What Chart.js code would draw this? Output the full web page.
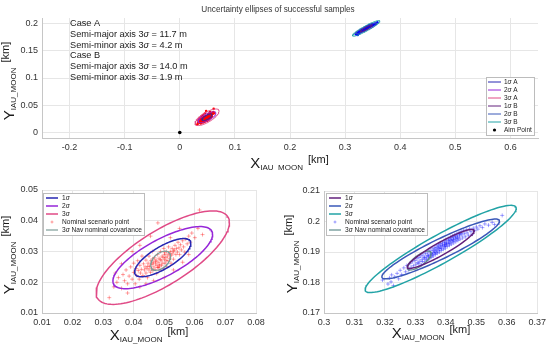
<!DOCTYPE html>
<html>
<head>
<meta charset="utf-8">
<script src="https://cdn.jsdelivr.net/npm/chart.js@4.4.1/dist/chart.umd.min.js"></script>
<style>
  body { margin: 0; background: #fff; }
  #wrap { position: relative; width: 550px; height: 348px; overflow: hidden; background: #fff; }
  canvas { position: absolute; }
</style>
</head>
<body>
<div id="wrap">
  <canvas id="chartTop" width="550" height="170" style="left:0;top:0"></canvas>
  <canvas id="chartA" width="275" height="178" style="left:0;top:170px"></canvas>
  <canvas id="chartB" width="275" height="178" style="left:275px;top:170px"></canvas>
</div>
<script>
const titleText = 'Uncertainty ellipses of successful samples';
const caseNotes = ['Case A', 'Semi-major axis 3σ = 11.7 m', 'Semi-minor axis 3σ = 4.2 m',
                   'Case B', 'Semi-major axis 3σ = 14.0 m', 'Semi-minor axis 3σ = 1.9 m'];

const topXTicks = [-0.2, -0.1, 0, 0.1, 0.2, 0.3, 0.4, 0.5, 0.6];
const topYTicks = [0, 0.05, 0.1, 0.15, 0.2];
const aXTicks = [0.01, 0.02, 0.03, 0.04, 0.05, 0.06, 0.07, 0.08];
const aYTicks = [0.01, 0.02, 0.03, 0.04, 0.05];
const bXTicks = [0.3, 0.31, 0.32, 0.33, 0.34, 0.35, 0.36, 0.37];
const bYTicks = [0.17, 0.18, 0.19, 0.2, 0.21];

const sigmaLabels = ['1σ', '2σ', '3σ'];
const aimPoint = [0, 0];

// ellipse sizes (km): centre, half extent in x and y, correlation
const centreA = [0.0495, 0.0280];
const halfXA = [0.0092, 0.0163, 0.0218];
const halfYA = [0.0062, 0.0101, 0.0152];
const rhoA = 0.75;
const navA = [0.0488, 0.0270, 0.00325, 0.0031, 0.45];

const centreB = [0.3383, 0.1910];
const halfXB = [0.0110, 0.0193, 0.0248];
const halfYB = [0.0064, 0.0098, 0.0143];
const rhoB = 0.93;
const navB = [0.3313, 0.1872, 0.0039, 0.0031, 0.75];

// successful samples, case A
const samplesA = [
  [0.0615,0.0435],[0.0320,0.0150],[0.0335,0.0185],[0.0345,0.0200],[0.0350,0.0215],[0.0360,0.0180],
  [0.0365,0.0225],[0.0370,0.0205],[0.0375,0.0240],[0.0380,0.0195],[0.0385,0.0220],[0.0390,0.0250],
  [0.0395,0.0210],[0.0400,0.0232],[0.0400,0.0262],[0.0405,0.0195],[0.0408,0.0245],[0.0410,0.0222],
  [0.0413,0.0270],[0.0415,0.0238],[0.0418,0.0210],[0.0420,0.0255],[0.0422,0.0230],[0.0425,0.0242],
  [0.0427,0.0285],[0.0430,0.0222],[0.0432,0.0260],[0.0435,0.0240],[0.0437,0.0250],[0.0440,0.0230],
  [0.0440,0.0272],[0.0443,0.0245],[0.0445,0.0215],[0.0447,0.0262],[0.0450,0.0240],[0.0450,0.0285],
  [0.0452,0.0252],[0.0455,0.0232],[0.0456,0.0270],[0.0458,0.0245],[0.0460,0.0258],[0.0461,0.0300],
  [0.0463,0.0238],[0.0465,0.0265],[0.0466,0.0250],[0.0468,0.0280],[0.0470,0.0242],[0.0471,0.0260],
  [0.0473,0.0272],[0.0475,0.0228],[0.0476,0.0255],[0.0478,0.0290],[0.0480,0.0265],[0.0481,0.0248],
  [0.0483,0.0278],[0.0485,0.0258],[0.0486,0.0240],[0.0488,0.0300],[0.0490,0.0270],[0.0491,0.0255],
  [0.0493,0.0285],[0.0495,0.0262],[0.0497,0.0245],[0.0498,0.0310],[0.0500,0.0275],[0.0502,0.0290],
  [0.0503,0.0262],[0.0505,0.0280],[0.0507,0.0300],[0.0508,0.0250],[0.0510,0.0285],[0.0512,0.0270],
  [0.0514,0.0315],[0.0515,0.0292],[0.0517,0.0278],[0.0520,0.0300],[0.0522,0.0262],[0.0524,0.0288],
  [0.0526,0.0310],[0.0528,0.0295],[0.0530,0.0275],[0.0533,0.0305],[0.0535,0.0320],[0.0538,0.0290],
  [0.0540,0.0310],[0.0543,0.0298],[0.0545,0.0330],[0.0548,0.0312],[0.0550,0.0290],[0.0553,0.0322],
  [0.0556,0.0305],[0.0560,0.0335],[0.0563,0.0315],[0.0567,0.0298],[0.0570,0.0340],[0.0575,0.0325],
  [0.0580,0.0350],[0.0585,0.0330],[0.0590,0.0360],[0.0600,0.0345],[0.0610,0.0375],[0.0625,0.0355],
  [0.0479,0.0393],[0.0455,0.0350],[0.0420,0.0320],[0.0395,0.0300],[0.0360,0.0260],[0.0440,0.0195],
  [0.0500,0.0215],[0.0530,0.0240],[0.0560,0.0265],[0.0580,0.0290],[0.0550,0.0375],[0.0520,0.0345],
  [0.0340,0.0230],[0.0380,0.0165],[0.0420,0.0185],[0.0465,0.0205],[0.0472,0.0268],[0.0484,0.0252],
  [0.0496,0.0281],[0.0506,0.0270],[0.0459,0.0262],[0.0446,0.0252],[0.0518,0.0292],[0.0530,0.0302],
  [0.0487,0.0274],[0.0478,0.0248],[0.0501,0.0296],[0.0462,0.0276]
];

// successful samples, case B
const samplesB = [
  [0.3192,0.1808],[0.3210,0.1795],[0.3215,0.1815],[0.3220,0.1802],[0.3222,0.1825],[0.3228,0.1790],
  [0.3232,0.1818],[0.3240,0.1830],[0.3245,0.1812],[0.3250,0.1840],[0.3255,0.1826],[0.3262,0.1848],
  [0.3268,0.1835],[0.3272,0.1856],[0.3278,0.1842],[0.3282,0.1862],[0.3286,0.1850],[0.3290,0.1868],
  [0.3294,0.1855],[0.3298,0.1872],[0.3302,0.1860],[0.3305,0.1878],[0.3308,0.1866],[0.3312,0.1882],
  [0.3315,0.1870],[0.3318,0.1887],[0.3320,0.1858],[0.3322,0.1876],[0.3325,0.1890],[0.3328,0.1880],
  [0.3330,0.1867],[0.3333,0.1895],[0.3336,0.1884],[0.3338,0.1873],[0.3341,0.1900],[0.3343,0.1888],
  [0.3345,0.1878],[0.3348,0.1904],[0.3350,0.1892],[0.3352,0.1882],[0.3355,0.1910],[0.3357,0.1898],
  [0.3359,0.1887],[0.3362,0.1914],[0.3364,0.1902],[0.3366,0.1892],[0.3368,0.1920],[0.3370,0.1907],
  [0.3372,0.1896],[0.3375,0.1924],[0.3377,0.1912],[0.3379,0.1900],[0.3381,0.1928],[0.3383,0.1916],
  [0.3385,0.1905],[0.3388,0.1933],[0.3390,0.1920],[0.3392,0.1909],[0.3394,0.1937],[0.3396,0.1925],
  [0.3398,0.1913],[0.3401,0.1940],[0.3403,0.1928],[0.3405,0.1918],[0.3408,0.1945],[0.3410,0.1933],
  [0.3412,0.1922],[0.3415,0.1948],[0.3417,0.1937],[0.3419,0.1926],[0.3422,0.1952],[0.3424,0.1941],
  [0.3426,0.1930],[0.3429,0.1956],[0.3431,0.1945],[0.3433,0.1934],[0.3436,0.1960],[0.3438,0.1948],
  [0.3440,0.1938],[0.3443,0.1963],[0.3445,0.1952],[0.3447,0.1942],[0.3450,0.1966],[0.3453,0.1956],
  [0.3455,0.1946],[0.3458,0.1970],[0.3461,0.1960],[0.3464,0.1950],[0.3467,0.1973],[0.3470,0.1963],
  [0.3474,0.1955],[0.3478,0.1976],[0.3482,0.1967],[0.3486,0.1958],[0.3490,0.1978],[0.3495,0.1970],
  [0.3500,0.1982],[0.3505,0.1975],[0.3512,0.1986],[0.3520,0.1980],[0.3528,0.1992],[0.3540,0.1988],
  [0.3552,0.1997],[0.3560,0.1990],[0.3585,0.2020],[0.3360,0.1905],[0.3372,0.1915],[0.3384,0.1922],
  [0.3396,0.1930],[0.3408,0.1938],[0.3352,0.1895],[0.3340,0.1890],[0.3330,0.1882],[0.3395,0.1918],
  [0.3418,0.1943],[0.3432,0.1951],[0.3445,0.1958],[0.3380,0.1910],[0.3368,0.1898],[0.3402,0.1924],
  [0.3414,0.1930],[0.3426,0.1938],[0.3440,0.1945],[0.3356,0.1890],[0.3344,0.1883],[0.3374,0.1904],
  [0.3386,0.1912],[0.3398,0.1921],[0.3410,0.1927],[0.3422,0.1935],[0.3434,0.1942],[0.3362,0.1896],
  [0.3350,0.1887],[0.3389,0.1926],[0.3401,0.1932],[0.3413,0.1940],[0.3425,0.1947],[0.3377,0.1919],
  [0.3365,0.1910],[0.3437,0.1955],[0.3449,0.1961],[0.3335,0.1876],[0.3323,0.1869],[0.3311,0.1862]
];

const colA = ['#2727b2', '#9626d8', '#e04a86'];
const colB = ['#62207c', '#3a58b8', '#22a3a6'];
const navColA = '#7c9c98';
const navColB = '#5f8b8a';

const FONT = '"Liberation Sans", Arial, Helvetica, sans-serif';

function ellipse(cx, cy, hx, hy, rho) {
  const pts = [];
  const s = Math.sqrt(1 - rho * rho);
  for (let i = 0; i <= 120; i++) {
    const t = i / 120 * 2 * Math.PI;
    pts.push({x: cx + hx * Math.cos(t), y: cy + hy * (rho * Math.cos(t) + s * Math.sin(t))});
  }
  return pts;
}
const toXY = arr => arr.map(p => ({x: p[0], y: p[1]}));

function ellSet(label, pts, color, width) {
  return {label, data: pts, showLine: true, borderColor: color, borderWidth: width,
          pointRadius: 0, fill: false, tension: 0, order: 1};
}

// text with an italic sigma
function sigmaParts(text, size) {
  return text.split(/(σ)/).filter(s => s).map(s => ({t: s, size, it: s === 'σ'}));
}
function partFont(p) { return (p.it ? 'italic ' : '') + p.size + 'px ' + FONT; }
function richWidth(ctx, parts) {
  let w = 0;
  parts.forEach(p => { ctx.font = partFont(p); w += (p.dx || 0) + ctx.measureText(p.t).width; });
  return w;
}
function drawRich(ctx, parts, x, y, align) {
  let cx = align === 'center' ? x - richWidth(ctx, parts) / 2 : x;
  ctx.textAlign = 'left';
  ctx.textBaseline = 'alphabetic';
  parts.forEach(p => {
    ctx.font = partFont(p);
    cx += p.dx || 0;
    ctx.fillText(p.t, cx, y + (p.dy || 0));
    cx += ctx.measureText(p.t).width;
  });
}
function axisLabelParts(letter) {
  return [{t: letter, size: 15}, {t: 'IAU_MOON', size: 8, dy: 2}, {t: '[km]', size: 11, dy: -5, dx: 5}];
}

const axisText = {
  id: 'axisText',
  afterDraw(chart, args, o) {
    const ctx = chart.ctx;
    ctx.save();
    ctx.fillStyle = '#1a1a1a';
    drawRich(ctx, axisLabelParts('X'), o.xLabel[0], o.xLabel[1], 'center');
    ctx.translate(o.yLabel[0], o.yLabel[1]);
    ctx.rotate(-Math.PI / 2);
    drawRich(ctx, axisLabelParts('Y'), 0, 0, 'center');
    ctx.restore();
    if (o.title) {
      ctx.save();
      ctx.fillStyle = '#333';
      drawRich(ctx, [{t: o.title, size: 8.2}], 278, 11.5, 'center');
      ctx.restore();
    }
    if (o.notes) {
      ctx.save();
      ctx.fillStyle = '#1a1a1a';
      o.notes.forEach((n, i) => drawRich(ctx, sigmaParts(n, 9.2), 70, 26 + i * 10.8, 'left'));
      ctx.restore();
    }
  }
};

const boxLegend = {
  id: 'boxLegend',
  afterDraw(chart, args, o) {
    const ctx = chart.ctx, area = chart.chartArea;
    const items = chart.data.datasets.filter(d => d.label);
    ctx.save();
    let tw = 0;
    items.forEach(d => { tw = Math.max(tw, richWidth(ctx, sigmaParts(d.label, o.size))); });
    const w = o.padX + o.lineLen + o.gap + tw + 2;
    const h = items.length * o.rowH + 2 * o.padY;
    const x0 = Math.round(o.right ? area.right - o.dx - w : area.left + o.dx);
    const y0 = Math.round(o.bottom ? area.bottom - o.dy - h : area.top + o.dy);
    ctx.fillStyle = '#fff';
    ctx.fillRect(x0, y0, w, h);
    ctx.strokeStyle = '#bcbcbc';
    ctx.lineWidth = 1;
    ctx.strokeRect(x0 + 0.5, y0 + 0.5, Math.round(w), Math.round(h));
    items.forEach((d, i) => {
      const cy = y0 + o.padY + o.rowH * (i + 0.5);
      const lx = x0 + o.padX;
      if (d.showLine) {
        ctx.strokeStyle = d.borderColor;
        ctx.lineWidth = d.borderWidth;
        ctx.beginPath();
        ctx.moveTo(lx, cy);
        ctx.lineTo(lx + o.lineLen, cy);
        ctx.stroke();
      } else {
        const mx = lx + o.lineLen / 2;
        if (d.pointStyle === 'cross') {
          ctx.strokeStyle = d.borderColor;
          ctx.lineWidth = 1;
          ctx.beginPath();
          ctx.moveTo(mx - 1.5, cy); ctx.lineTo(mx + 1.5, cy);
          ctx.moveTo(mx, cy - 1.5); ctx.lineTo(mx, cy + 1.5);
          ctx.stroke();
        } else {
          ctx.fillStyle = d.backgroundColor;
          ctx.beginPath();
          ctx.arc(mx, cy, 1.6, 0, 2 * Math.PI);
          ctx.fill();
        }
      }
      ctx.fillStyle = '#222';
      drawRich(ctx, sigmaParts(d.label, o.size), lx + o.lineLen + o.gap, cy + o.size * 0.36, 'left');
    });
    ctx.restore();
  }
};

function axis(min, max, ticks, size, isY) {
  return {
    type: 'linear', min, max,
    afterBuildTicks: s => { s.ticks = ticks.map(v => ({value: v})); },
    afterFit: s => { if (isY) s.width = size; else s.height = size; },
    ticks: {font: {family: FONT, size: 9}, color: '#333', padding: 4, callback: v => String(v)},
    grid: {color: '#e6e6e6', drawTicks: false, lineWidth: 1},
    border: {color: '#c6c6c6'}
  };
}

function baseOptions(padding, xs, ys, extra) {
  return {
    responsive: false, animation: false, events: [],
    layout: {padding},
    scales: {x: xs, y: ys},
    plugins: Object.assign({legend: {display: false}, tooltip: {enabled: false}}, extra)
  };
}

// top overview chart
const topSets = [];
sigmaLabels.forEach((s, i) => topSets.push(ellSet(s + ' A', ellipse(centreA[0], centreA[1], halfXA[i], halfYA[i], rhoA), colA[i], 1)));
sigmaLabels.forEach((s, i) => topSets.push(ellSet(s + ' B', ellipse(centreB[0], centreB[1], halfXB[i], halfYB[i], rhoB), colB[i], 1)));
topSets.push({label: 'Aim Point', data: [{x: aimPoint[0], y: aimPoint[1]}], pointStyle: 'circle',
              pointRadius: 1.8, backgroundColor: '#000', borderWidth: 0, order: 0});
topSets.push({data: toXY(samplesA), pointRadius: 1.3, backgroundColor: '#ff0000', borderWidth: 0, order: 3});
topSets.push({data: toXY(samplesB), pointRadius: 1.3, backgroundColor: '#0000ff', borderWidth: 0, order: 3});

new Chart(document.getElementById('chartTop'), {
  type: 'scatter',
  data: {datasets: topSets},
  options: baseOptions({top: 18, right: 12, left: 0, bottom: 0},
    axis(-0.25, 0.65, topXTicks, 32, false), axis(-0.01, 0.21, topYTicks, 42, true),
    {
      axisText: {xLabel: [289.5, 168], yLabel: [13.5, 81], title: titleText, notes: caseNotes},
      boxLegend: {right: true, bottom: true, dx: 4, dy: 3, size: 6.5, rowH: 8, padY: 1, padX: 2, lineLen: 13, gap: 3}
    }),
  plugins: [axisText, boxLegend]
});

// zoom on case A
const setsA = [];
sigmaLabels.forEach((s, i) => setsA.push(ellSet(s, ellipse(centreA[0], centreA[1], halfXA[i], halfYA[i], rhoA), colA[i], 1.5)));
setsA.push({label: 'Nominal scenario point', data: toXY(samplesA), pointStyle: 'cross', pointRadius: 2,
            borderColor: 'rgba(255,0,0,0.35)', borderWidth: 1, order: 2});
setsA.push(ellSet('3σ Nav nominal covariance', ellipse(navA[0], navA[1], navA[2], navA[3], navA[4]), navColA, 1.2));

new Chart(document.getElementById('chartA'), {
  type: 'scatter',
  data: {datasets: setsA},
  options: baseOptions({top: 20, right: 19, left: 0, bottom: 0},
    axis(0.01, 0.08, aXTicks, 35, false), axis(0.01, 0.05, aYTicks, 42, true),
    {
      axisText: {xLabel: [149, 170], yLabel: [13.5, 85]},
      boxLegend: {right: false, bottom: false, dx: 1, dy: 3, size: 6.6, rowH: 8, padY: 1, padX: 3, lineLen: 12, gap: 4}
    }),
  plugins: [axisText, boxLegend]
});

// zoom on case B
const setsB = [];
sigmaLabels.forEach((s, i) => setsB.push(ellSet(s, ellipse(centreB[0], centreB[1], halfXB[i], halfYB[i], rhoB), colB[i], 1.5)));
setsB.push({label: 'Nominal scenario point', data: toXY(samplesB), pointStyle: 'cross', pointRadius: 2,
            borderColor: 'rgba(0,0,255,0.35)', borderWidth: 1, order: 2});
setsB.push(ellSet('3σ Nav nominal covariance', ellipse(navB[0], navB[1], navB[2], navB[3], navB[4]), navColB, 1.2));

new Chart(document.getElementById('chartB'), {
  type: 'scatter',
  data: {datasets: setsB},
  options: baseOptions({top: 21, right: 12, left: 0, bottom: 0},
    axis(0.3, 0.37, bXTicks, 35, false), axis(0.17, 0.21, bYTicks, 49, true),
    {
      axisText: {xLabel: [156, 168], yLabel: [22, 84]},
      boxLegend: {right: false, bottom: false, dx: 2, dy: 2, size: 6.6, rowH: 8, padY: 1, padX: 3, lineLen: 12, gap: 4}
    }),
  plugins: [axisText, boxLegend]
});
</script>
</body>
</html>
